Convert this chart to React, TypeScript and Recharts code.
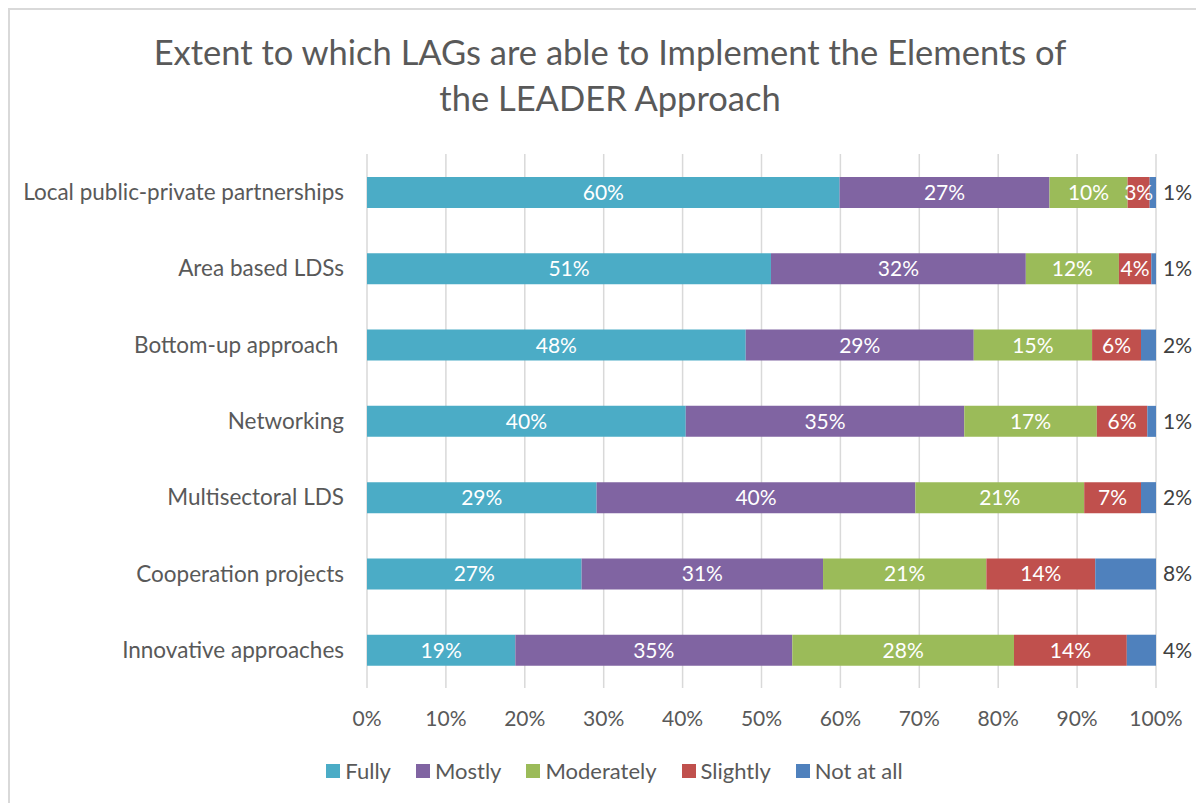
import React from 'react';
import { BarChart, Bar, XAxis, YAxis, CartesianGrid, LabelList, Legend } from 'recharts';

const categories = [
  'Local public-private partnerships',
  'Area based LDSs',
  'Bottom-up approach\u00A0',
  'Networking',
  'Multisectoral LDS',
  'Cooperation projects',
  'Innovative approaches',
];
const fully = [59.9, 51.2, 48.0, 40.4, 29.1, 27.2, 18.8];
const mostly = [26.6, 32.3, 28.9, 35.3, 40.4, 30.6, 35.1];
const moderately = [9.9, 11.8, 15.0, 16.8, 21.4, 20.7, 28.1];
const slightly = [2.8, 4.1, 6.2, 6.4, 7.2, 13.8, 14.3];
const notAtAll = [0.8, 0.6, 1.9, 1.1, 1.9, 7.7, 3.7];

const xTicks = [0, 10, 20, 30, 40, 50, 60, 70, 80, 90, 100];
const seriesKeys = ['fully', 'mostly', 'moderately', 'slightly', 'notAtAll'];
const seriesNames = ['Fully', 'Mostly', 'Moderately', 'Slightly', 'Not at all'];
const seriesColors = ['#4BACC6', '#8064A2', '#9BBB59', '#C0504D', '#4F81BD'];
const titleLines = ['Extent to which LAGs are able to Implement the Elements of', 'the LEADER Approach'];

const data = categories.map((name, i) => ({
  name,
  fully: fully[i],
  mostly: mostly[i],
  moderately: moderately[i],
  slightly: slightly[i],
  notAtAll: notAtAll[i],
}));

const FONT = 'Lato, "Open Sans", sans-serif';
const GRAY = '#595959';

const fmt = (v: any) => `${Math.round(Number(v))}%`;

const LegendContent = () => (
  <div style={{ display: 'flex', justifyContent: 'center', alignItems: 'center', fontFamily: FONT, fontSize: 22, color: GRAY, paddingLeft: 15 }}>
    {seriesNames.map((n, i) => (
      <div key={n} style={{ display: 'flex', alignItems: 'center', marginRight: i < seriesNames.length - 1 ? 25 : 0 }}>
        <span style={{ display: 'inline-block', width: 14, height: 14, background: seriesColors[i], marginRight: 5 }} />
        <span>{n}</span>
      </div>
    ))}
  </div>
);

export default function App() {
  return (
    <div style={{ position: 'relative', width: 1194, height: 793, border: '2px solid #d9d9d9', background: '#fff', fontFamily: FONT }}>
      <div style={{ position: 'absolute', top: 19, left: 0, width: 1200, textAlign: 'center', fontSize: 34.5, lineHeight: '46px', color: GRAY }}>
        {titleLines.map((t) => (
          <div key={t}>{t}</div>
        ))}
      </div>
      <BarChart
        width={1194}
        height={790}
        data={data}
        layout="vertical"
        barSize={31}
        margin={{ top: 144, right: 48, bottom: 72, left: 0 }}
      >
        <CartesianGrid horizontal={false} stroke="#d9d9d9" strokeWidth={1.5} />
        <XAxis
          type="number"
          domain={[0, 100]}
          ticks={xTicks}
          allowDataOverflow
          tickFormatter={(v: number) => `${v}%`}
          axisLine={false}
          tickLine={false}
          tickSize={0}
          tickMargin={23}
          height={40}
          tick={{ fill: GRAY, fontSize: 21, fontFamily: FONT }}
          interval={0}
        />
        <YAxis
          type="category"
          dataKey="name"
          width={357}
          axisLine={false}
          tickLine={false}
          tickSize={0}
          tickMargin={23}
          tick={{ fill: GRAY, fontSize: 22.5, fontFamily: FONT }}
          interval={0}
        />
        <Legend verticalAlign="middle" align="center" layout="horizontal" content={LegendContent} wrapperStyle={{ top: 747, left: 0, width: 1194 }} />
        {seriesKeys.map((k, i) => (
          <Bar key={k} dataKey={k} name={seriesNames[i]} stackId="a" fill={seriesColors[i]} isAnimationActive={false}>
            {i < 4 ? (
              <LabelList dataKey={k} position="center" fill="#ffffff" fontSize={21} fontFamily={FONT} formatter={fmt} />
            ) : (
              <LabelList dataKey={k} position="right" offset={7} fill="#404040" fontSize={21} fontFamily={FONT} formatter={fmt} />
            )}
          </Bar>
        ))}
      </BarChart>
    </div>
  );
}
